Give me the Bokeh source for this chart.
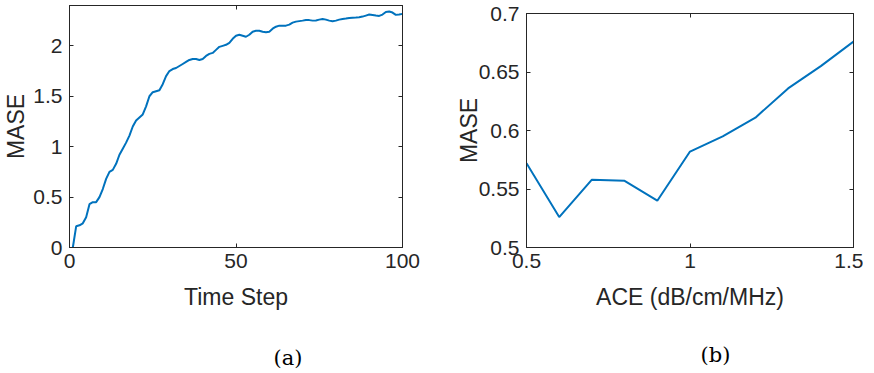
from bokeh.plotting import figure
from bokeh.models import Range1d, FixedTicker, LinearAxis, Title, CustomLabelingPolicy
from bokeh.embed import file_html
from bokeh.resources import INLINE

# ---------------- data ----------------
time_steps = list(range(1, 101))
mase_time = [
    0.00, 0.21, 0.22, 0.24, 0.30, 0.43, 0.45, 0.45, 0.50, 0.58,
    0.68, 0.75, 0.77, 0.83, 0.92, 0.98, 1.04, 1.11, 1.20, 1.26,
    1.29, 1.32, 1.40, 1.50, 1.54, 1.55, 1.56, 1.62, 1.70, 1.75,
    1.77, 1.78, 1.80, 1.82, 1.84, 1.86, 1.87, 1.87, 1.86, 1.87,
    1.90, 1.92, 1.93, 1.96, 1.99, 2.00, 2.01, 2.03, 2.07, 2.10,
    2.11, 2.10, 2.09, 2.11, 2.14, 2.15, 2.15, 2.14, 2.135, 2.14,
    2.17, 2.19, 2.20, 2.20, 2.20, 2.21, 2.23, 2.24, 2.245, 2.25,
    2.257, 2.255, 2.25, 2.252, 2.26, 2.267, 2.26, 2.25, 2.244, 2.25,
    2.26, 2.267, 2.27, 2.275, 2.278, 2.28, 2.283, 2.29, 2.30, 2.31,
    2.305, 2.30, 2.297, 2.31, 2.335, 2.34, 2.33, 2.307, 2.31, 2.317,
]

ace = [0.5, 0.6, 0.7, 0.8, 0.9, 1.0, 1.1, 1.2, 1.3, 1.4, 1.5]
mase_ace = [0.572, 0.526, 0.558, 0.557, 0.540, 0.582, 0.595, 0.611, 0.636, 0.655, 0.676]

x_ticks_a = [0, 50, 100]
y_ticks_a = [0, 0.5, 1, 1.5, 2]
x_ticks_b = [0.5, 1, 1.5]
y_ticks_b = [0.5, 0.55, 0.6, 0.65, 0.7]

# ---------------- styles ----------------
AX = "#262626"
LINE = "#0072BD"
FONT = "Liberation Sans"
TICK_FS = "21px"
LABEL_FS = "23px"


def fmt(ticks):
    return {t: f"{t:g}" for t in ticks}


def style_axis(ax, ticks, show_labels=True, standoff=7):
    ax.ticker = FixedTicker(ticks=ticks)
    ax.major_tick_in = 4
    ax.major_tick_out = 0
    ax.minor_tick_in = 0
    ax.minor_tick_out = 0
    ax.axis_line_color = AX
    ax.major_tick_line_color = AX
    if show_labels:
        ax.major_label_overrides = fmt(ticks)
        ax.major_label_text_font = FONT
        ax.major_label_text_font_size = TICK_FS
        ax.major_label_text_color = AX
        ax.major_label_standoff = standoff
        ax.axis_label_text_font = FONT
        ax.axis_label_text_font_size = LABEL_FS
        ax.axis_label_text_font_style = "normal"
        ax.axis_label_text_color = AX
    else:
        ax.major_label_text_font_size = "0px"
        ax.major_label_standoff = 0
        ax.major_label_policy = CustomLabelingPolicy(code="return new Set()")


def make_fig(xs, ys, xr, yr, xt, yt, xlabel, ylabel, caption, cap_offset,
             cap_standoff, mb_left, fw, mb_right, mb_top, fh, ylab_standoff,
             left_px, top_px):
    p = figure(output_backend="svg", toolbar_location=None,
               x_range=Range1d(*xr), y_range=Range1d(*yr),
               frame_width=fw, frame_height=fh,
               min_border_left=mb_left, min_border_right=mb_right,
               min_border_top=mb_top, min_border_bottom=0,
               background_fill_color="white", border_fill_color="white",
               styles={"position": "absolute", "left": f"{left_px}px",
                       "top": f"{top_px}px"})
    p.grid.visible = False
    p.outline_line_color = AX
    p.line(xs, ys, line_color=LINE, line_width=2)

    style_axis(p.xaxis[0], xt, standoff=6)
    style_axis(p.yaxis[0], yt, standoff=7)
    p.xaxis[0].axis_label = xlabel
    p.yaxis[0].axis_label = ylabel
    p.xaxis[0].axis_label_standoff = 13
    p.yaxis[0].axis_label_standoff = ylab_standoff

    top = LinearAxis()
    style_axis(top, xt, show_labels=False)
    p.add_layout(top, "above")
    right = LinearAxis()
    style_axis(right, yt, show_labels=False)
    p.add_layout(right, "right")

    p.add_layout(Title(text=caption, align="left", offset=cap_offset,
                       standoff=cap_standoff, text_font="DejaVu Serif",
                       text_font_size="21px", text_font_style="normal",
                       text_color="black"), "below")
    return p


pa = make_fig(time_steps, mase_time, (0, 100), (0, 2.4), x_ticks_a, y_ticks_a,
              "Time Step", "MASE", "(a)", 204, 62,
              62, 333, 35, 1, 242, 1, 0, 4)
pb = make_fig(ace, mase_ace, (0.5, 1.5), (0.5, 0.7), x_ticks_b, y_ticks_b,
              "ACE (dB/cm/MHz)", "MASE", "(b)", 174, 56,
              88, 327, 10, 13, 234, -6, 438, 0)

open("out.html", "w").write(file_html([pa, pb], INLINE))
